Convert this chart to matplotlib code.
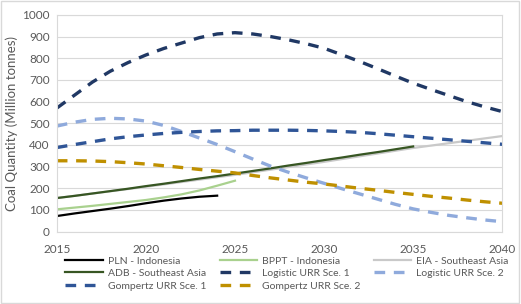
import numpy as np
import matplotlib.pyplot as plt
from matplotlib.patches import Rectangle

plt.rcParams['font.family'] = ['Lato', 'DejaVu Sans']

years = np.arange(2015, 2041)

# solid scenario lines
pln_years = np.arange(2015, 2025)
pln = [72, 84, 95, 106, 118, 131, 143, 153, 161, 166]
bppt_years = np.arange(2015, 2026)
bppt = [103, 111, 119, 128, 137, 146, 158, 172, 190, 212, 235]
eia_years = [2015, 2020, 2025, 2030, 2035, 2040]
eia = [155, 207, 262, 322, 386, 441]
adb_years = np.arange(2015, 2036)
adb = [155, 165, 176, 187, 198, 210, 221, 233, 245, 256, 268,
       280, 292, 305, 317, 330, 342, 355, 367, 380, 393]

# dashed model lines (2015-2040)
logistic1 = [570, 630, 690, 740, 780, 815, 845, 870, 895, 912, 918, 912, 900,
             885, 867, 846, 816, 785, 752, 718, 685, 656, 628, 600, 576, 554]
logistic2 = [487, 505, 518, 523, 520, 510, 490, 462, 432, 402, 369, 335, 302,
             274, 248, 223, 198, 174, 150, 126, 105, 89, 75, 64, 54, 46]
gompertz1 = [388, 402, 415, 428, 438, 446, 453, 458, 462, 465, 466, 468, 468,
             468, 467, 465, 462, 458, 452, 445, 438, 431, 424, 417, 410, 403]
gompertz2 = [327, 327, 326, 323, 318, 312, 304, 296, 287, 279, 271, 259, 248,
             238, 228, 220, 210, 200, 191, 181, 172, 163, 155, 146, 138, 131]

fig = plt.figure(figsize=(5.21, 3.04), dpi=100)
ax = fig.add_axes([0.109, 0.238, 0.855, 0.713])

dash = (0, (3.2, 2.6))
ax.plot(pln_years, pln, color='black', lw=1.6, label='PLN - Indonesia')
ax.plot(bppt_years, bppt, color='#a9d18e', lw=1.6, label='BPPT - Indonesia')
ax.plot(eia_years, eia, color='#c9c9c9', lw=1.6, label='EIA - Southeast Asia')
ax.plot(adb_years, adb, color='#375623', lw=1.6, label='ADB - Southeast Asia')
ax.plot(years, logistic1, color='#203864', lw=2.4, ls=dash, label='Logistic URR Sce. 1')
ax.plot(years, logistic2, color='#8faadc', lw=2.4, ls=dash, label='Logistic URR Sce. 2')
ax.plot(years, gompertz1, color='#2f5597', lw=2.4, ls=dash, label='Gompertz URR Sce. 1')
ax.plot(years, gompertz2, color='#bf9000', lw=2.4, ls=dash, label='Gompertz URR Sce. 2')

ax.set_xlim(2015, 2040)
ax.set_ylim(0, 1000)
ax.set_xticks(range(2015, 2041, 5))
ax.set_yticks(range(0, 1001, 100))
ax.grid(axis='y', color='#d9d9d9', lw=0.8)
ax.set_axisbelow(True)
for s in ax.spines.values():
    s.set_color('#d9d9d9')
ax.tick_params(length=0, labelsize=8.5, labelcolor='#595959', pad=5)
ax.tick_params(axis='x', pad=9)
ax.set_ylabel('Coal Quantity (Million tonnes)', fontsize=9.5, color='#595959', labelpad=3)

# legend fills row by row in the reference
h, l = ax.get_legend_handles_labels()
order = [0, 3, 6, 1, 4, 7, 2, 5]
ax.legend([h[i] for i in order], [l[i] for i in order],
          loc='upper left', bbox_to_anchor=(0.01, -0.095), ncol=3, frameon=False,
          fontsize=7.5, labelcolor='#595959', handlelength=3.6, handletextpad=0.45,
          columnspacing=1.3, labelspacing=0.3, borderaxespad=0)

fig.patches.append(Rectangle((0.002, 0.003), 0.995, 0.993, transform=fig.transFigure,
                             fill=False, edgecolor='#d9d9d9', lw=1))

fig.savefig('out.png', dpi=100)
